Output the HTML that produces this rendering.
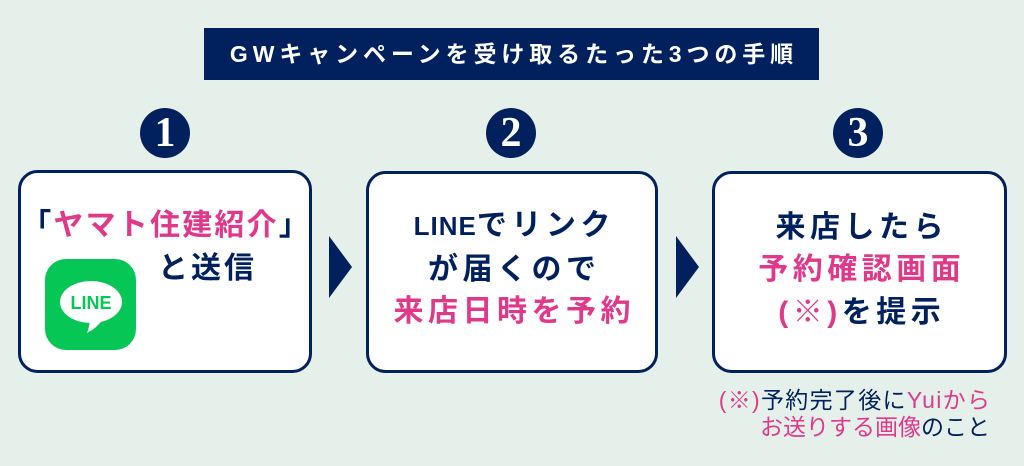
<!DOCTYPE html>
<html><head><meta charset="utf-8">
<style>
html,body{margin:0;padding:0;}
body{width:1024px;height:466px;background:#e6f0eb;position:relative;overflow:hidden;font-family:"Liberation Sans","Noto Sans CJK JP",sans-serif;}
svg{position:absolute;left:0;top:0;}
.t{position:absolute;white-space:nowrap;font-weight:bold;color:#00215e;}
.n{color:#00215e;}
.p{color:#e0398a;}
.ln{font-size:30px;line-height:30px;letter-spacing:4.5px;text-align:center;}
.num{position:absolute;width:50px;height:50px;line-height:50px;text-align:center;color:#fff;font-family:"Liberation Serif",serif;font-weight:bold;font-size:42px;}
</style></head><body>
<svg width="1024" height="466" viewBox="0 0 1024 466">
  <rect x="204" y="28" width="615" height="52" fill="#00205e"/>
  <circle cx="165" cy="133" r="25" fill="#00205e"/>
  <circle cx="511" cy="133" r="25" fill="#00205e"/>
  <circle cx="858" cy="133" r="25" fill="#00205e"/>
  <rect x="19.5" y="171.5" width="291" height="200" rx="18" fill="#fff" stroke="#00205e" stroke-width="3"/>
  <rect x="367.5" y="172.5" width="289" height="199" rx="18" fill="#fff" stroke="#00205e" stroke-width="3"/>
  <rect x="713.5" y="172.5" width="292" height="199" rx="18" fill="#fff" stroke="#00205e" stroke-width="3"/>
  <polygon points="329,236 352,267 329,298" fill="#00205e"/>
  <polygon points="676,236 699,267 676,298" fill="#00205e"/>
  <rect x="45" y="259" width="91" height="91" rx="21" fill="#06c755"/>
  <ellipse cx="91" cy="302" rx="31" ry="21" fill="#fff"/>
  <path d="M82,318 L90,320 Q89,328 87,333 Q97,328 104,318 Z" fill="#fff"/>
  <text x="91" y="309" text-anchor="middle" font-family="Liberation Sans" font-weight="bold" font-size="18" fill="#06c755">LINE</text>
</svg>

<div class="t" style="left:204px;top:40px;width:615px;text-align:center;color:#fff;font-size:23px;line-height:28px;letter-spacing:4.9px;padding-left:5px;box-sizing:border-box;">GWキャンペーンを受け取るたった3つの手順</div>

<div class="num" style="left:140px;top:108px;">1</div>
<div class="num" style="left:486px;top:108px;">2</div>
<div class="num" style="left:833px;top:108px;">3</div>

<div class="t ln" style="left:18px;top:211px;width:294px;letter-spacing:2.2px;padding-left:2.2px;box-sizing:border-box;"><span class="n">「</span><span class="p">ヤマト住建紹介</span><span class="n">」</span></div>
<div class="t ln" style="left:146px;top:254px;width:120px;letter-spacing:3px;padding-left:3px;box-sizing:border-box;">と送信</div>

<div class="t ln" style="left:366px;top:211px;width:292px;padding-left:4.5px;box-sizing:border-box;"><span style="font-size:26px;letter-spacing:1px;">LINE</span>でリンク</div>
<div class="t ln" style="left:366px;top:255px;width:292px;padding-left:4.5px;box-sizing:border-box;">が届くので</div>
<div class="t ln p" style="left:366px;top:297px;width:292px;padding-left:4.5px;box-sizing:border-box;color:#e0398a;">来店日時を予約</div>

<div class="t ln" style="left:712px;top:213px;width:295px;padding-left:4.5px;box-sizing:border-box;">来店したら</div>
<div class="t ln" style="left:712px;top:255px;width:295px;padding-left:4.5px;box-sizing:border-box;color:#e0398a;">予約確認画面</div>
<div class="t ln" style="left:712px;top:298px;width:295px;padding-left:4.5px;box-sizing:border-box;"><span class="p">(※)</span>を提示</div>

<div class="t" style="right:34px;top:387px;font-size:23px;line-height:27px;font-weight:normal;text-align:right;">
<span style="letter-spacing:1.3px;margin-right:-1.3px;"><span class="p">(※)</span><span class="n">予約完了後に</span><span class="p">Yuiから</span></span><br>
<span class="p">お送りする画像</span><span class="n">のこと</span>
</div>
</body></html>
